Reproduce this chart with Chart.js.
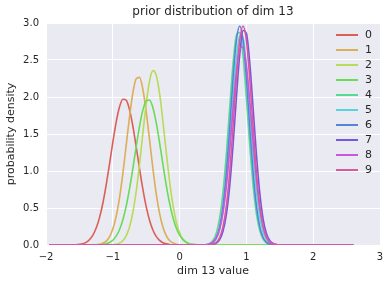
<!DOCTYPE html>
<html>
<head>
<meta charset="utf-8">
<script src="https://cdn.jsdelivr.net/npm/chart.js@4.4.1/dist/chart.umd.min.js"></script>
<style>
  html, body { margin: 0; padding: 0; background: #ffffff; }
  #wrap { width: 390px; height: 284px; }
</style>
</head>
<body>
<div id="wrap"><canvas id="c" width="390" height="284"></canvas></div>
<script>
// ---- data ----
const chartTitle = "prior distribution of dim 13";
const xTitle = "dim 13 value";
const yTitle = "probability density";
const seriesLabels = ["0","1","2","3","4","5","6","7","8","9"];
const seriesColors = ["#db5f57","#dbae57","#b9db57","#69db57","#57db94","#57d3db","#5784db","#7957db","#c957db","#db579e"];
const xTicks = [-2,-1,0,1,2,3];
const yTicks = [0,0.5,1,1.5,2,2.5,3];

const xValues = [
-1.95,-1.9,-1.85,-1.8,-1.75,-1.7,-1.65,-1.6,-1.55,-1.5,
-1.45,-1.4,-1.35,-1.3,-1.25,-1.2,-1.15,-1.1,-1.05,-1.0,
-0.95,-0.9,-0.85,-0.8,-0.75,-0.7,-0.65,-0.6,-0.55,-0.5,
-0.45,-0.4,-0.35,-0.3,-0.25,-0.2,-0.15,-0.1,-0.05,0,
0.05,0.1,0.15,0.2,0.25,0.3,0.35,0.4,0.45,0.5,
0.55,0.6,0.65,0.7,0.75,0.8,0.85,0.9,0.95,1.0,
1.05,1.1,1.15,1.2,1.25,1.3,1.35,1.4,1.45,1.5,
1.55,1.6,1.65,1.7,1.75,1.8,1.85,1.9,1.95,2.0,
2.05,2.1,2.15,2.2,2.25,2.3,2.35,2.4,2.45,2.5,
2.55,2.6];

const density0 = [
0,0,0,0,0,0,0,0.001,0.003,0.008,
0.017,0.036,0.071,0.130,0.226,0.367,0.561,0.807,1.091,1.387,
1.658,1.864,1.970,1.958,1.830,1.608,1.328,1.032,0.754,0.518,
0.335,0.203,0.116,0.062,0.031,0.015,0.007,0.003,0.001,0,
0,0,0,0,0,0,0,0,0,0,
0,0,0,0,0,0,0,0,0,0,
0,0,0,0,0,0,0,0,0,0,
0,0,0,0,0,0,0,0,0,0,
0,0,0,0,0,0,0,0,0,0,
0,0];
const density1 = [
0,0,0,0,0,0,0,0,0,0,
0,0,0,0.001,0.003,0.009,0.023,0.053,0.111,0.216,
0.385,0.634,0.961,1.343,1.730,2.054,2.247,2.265,2.105,1.802,
1.423,1.035,0.694,0.428,0.244,0.128,0.062,0.028,0.011,0.004,
0.002,0,0,0,0,0,0,0,0,0,
0,0,0,0,0,0,0,0,0,0,
0,0,0,0,0,0,0,0,0,0,
0,0,0,0,0,0,0,0,0,0,
0,0,0,0,0,0,0,0,0,0,
0,0];
const density2 = [
0,0,0,0,0,0,0,0,0,0,
0,0,0,0,0,0,0,0,0,0.003,
0.010,0.025,0.058,0.124,0.244,0.439,0.723,1.090,1.508,1.909,
2.216,2.356,2.295,2.048,1.675,1.254,0.861,0.541,0.312,0.165,
0.080,0.035,0.014,0.005,0.002,0,0,0,0,0,
0,0,0,0,0,0,0,0,0,0,
0,0,0,0,0,0,0,0,0,0,
0,0,0,0,0,0,0,0,0,0,
0,0,0,0,0,0,0,0,0,0,
0,0];
const density3 = [
0,0,0,0,0,0,0,0,0,0,
0,0,0,0,0.001,0.003,0.007,0.016,0.033,0.064,
0.119,0.207,0.339,0.522,0.757,1.033,1.327,1.603,1.822,1.948,
1.960,1.856,1.653,1.385,1.092,0.810,0.565,0.371,0.229,0.133,
0.073,0.037,0.018,0.008,0.004,0.001,0,0,0,0,
0,0,0,0,0,0,0,0,0,0,
0,0,0,0,0,0,0,0,0,0,
0,0,0,0,0,0,0,0,0,0,
0,0,0,0,0,0,0,0,0,0,
0,0];
const density4 = [
0,0,0,0,0,0,0,0,0,0,
0,0,0,0,0,0,0,0,0,0,
0,0,0,0,0,0,0,0,0,0,
0,0,0,0,0,0,0,0,0,0,
0,0,0,0,0,0,0.002,0.007,0.022,0.064,
0.164,0.366,0.717,1.233,1.857,2.449,2.832,2.870,2.548,1.983,
1.352,0.808,0.423,0.194,0.078,0.028,0.008,0.002,0,0,
0,0,0,0,0,0,0,0,0,0,
0,0,0,0,0,0,0,0,0,0,
0,0];
const density5 = [
0,0,0,0,0,0,0,0,0,0,
0,0,0,0,0,0,0,0,0,0,
0,0,0,0,0,0,0,0,0,0,
0,0,0,0,0,0,0,0,0,0,
0,0,0,0,0,0,0.001,0.003,0.010,0.031,
0.085,0.206,0.440,0.825,1.361,1.975,2.522,2.831,2.795,2.426,
1.853,1.244,0.735,0.382,0.174,0.070,0.025,0.008,0.002,0,
0,0,0,0,0,0,0,0,0,0,
0,0,0,0,0,0,0,0,0,0,
0,0];
const density6 = [
0,0,0,0,0,0,0,0,0,0,
0,0,0,0,0,0,0,0,0,0,
0,0,0,0,0,0,0,0,0,0,
0,0,0,0,0,0,0,0,0,0,
0,0,0,0,0,0,0.001,0.003,0.011,0.036,
0.102,0.249,0.530,0.985,1.594,2.248,2.763,2.960,2.763,2.248,
1.594,0.985,0.530,0.249,0.102,0.036,0.011,0.003,0.001,0,
0,0,0,0,0,0,0,0,0,0,
0,0,0,0,0,0,0,0,0,0,
0,0];
const density7 = [
0,0,0,0,0,0,0,0,0,0,
0,0,0,0,0,0,0,0,0,0,
0,0,0,0,0,0,0,0,0,0,
0,0,0,0,0,0,0,0,0,0,
0,0,0,0,0,0,0,0,0.002,0.008,
0.025,0.073,0.186,0.411,0.795,1.345,1.987,2.568,2.899,2.860,
2.466,1.858,1.224,0.704,0.354,0.156,0.060,0.020,0.006,0.002,
0,0,0,0,0,0,0,0,0,0,
0,0,0,0,0,0,0,0,0,0,
0,0];
const density8 = [
0,0,0,0,0,0,0,0,0,0,
0,0,0,0,0,0,0,0,0,0,
0,0,0,0,0,0,0,0,0,0,
0,0,0,0,0,0,0,0,0,0,
0,0,0,0,0,0,0.001,0.004,0.014,0.039,
0.099,0.223,0.449,0.804,1.286,1.834,2.332,2.645,2.675,2.414,
1.942,1.393,0.892,0.509,0.259,0.118,0.048,0.017,0.006,0.002,
0,0,0,0,0,0,0,0,0,0,
0,0,0,0,0,0,0,0,0,0,
0,0];
const density9 = [
0,0,0,0,0,0,0,0,0,0,
0,0,0,0,0,0,0,0,0,0,
0,0,0,0,0,0,0,0,0,0,
0,0,0,0,0,0,0,0,0,0,
0,0,0,0,0,0,0,0.001,0.003,0.011,
0.036,0.102,0.249,0.530,0.985,1.594,2.248,2.763,2.960,2.763,
2.248,1.594,0.985,0.530,0.249,0.102,0.036,0.011,0.003,0.001,
0,0,0,0,0,0,0,0,0,0,
0,0,0,0,0,0,0,0,0,0,
0,0];

const allDensities = [density0,density1,density2,density3,density4,density5,density6,density7,density8,density9];

// ---- styling ----
const FONT = "'DejaVu Sans', sans-serif";
const TEXT = "#262626";

const datasets = allDensities.map((ys, i) => ({
  label: seriesLabels[i],
  data: xValues.map((x, j) => ({x: x, y: ys[j]})),
  borderColor: seriesColors[i],
  backgroundColor: seriesColors[i],
  borderWidth: 1.6,
  pointRadius: 0,
  fill: false,
  cubicInterpolationMode: 'monotone',
  order: seriesLabels.length - 1 - i
}));

const bgPlugin = {
  id: 'bg',
  beforeDraw(chart) {
    const {ctx, chartArea: a} = chart;
    ctx.save();
    ctx.fillStyle = '#EAEAF2';
    ctx.fillRect(a.left, a.top, a.right - a.left, a.bottom - a.top);
    // title centred over the plot area
    ctx.font = "12px " + FONT;
    ctx.fillStyle = TEXT;
    ctx.textAlign = 'center';
    ctx.textBaseline = 'middle';
    ctx.fillText(chartTitle, (a.left + a.right) / 2, a.top - 11);
    ctx.restore();
  }
};

const legendPlugin = {
  id: 'innerLegend',
  afterDatasetsDraw(chart) {
    const {ctx, chartArea: a} = chart;
    ctx.save();
    ctx.font = "11px " + FONT;
    ctx.textBaseline = 'middle';
    ctx.textAlign = 'left';
    chart.data.datasets.forEach((ds, i) => {
      const y = a.top + 12 + i * 15;
      const x0 = a.right - 44;
      ctx.strokeStyle = ds.borderColor;
      ctx.lineWidth = 2;
      ctx.beginPath();
      ctx.moveTo(x0, y);
      ctx.lineTo(x0 + 22, y);
      ctx.stroke();
      ctx.fillStyle = TEXT;
      ctx.fillText(ds.label, x0 + 29, y + 0.5);
    });
    ctx.restore();
  }
};

new Chart(document.getElementById('c'), {
  type: 'line',
  data: { datasets },
  plugins: [bgPlugin, legendPlugin],
  options: {
    responsive: false,
    animation: false,
    devicePixelRatio: 1,
    layout: { padding: { left: 0, right: 10, top: 23, bottom: 0 } },
    plugins: {
      legend: { display: false },
      tooltip: { enabled: false },
      title: { display: false }
    },
    scales: {
      x: {
        type: 'linear',
        min: -2, max: 3,
        afterBuildTicks(scale) { scale.ticks = xTicks.map(v => ({value: v})); },
        afterFit(scale) { scale.height = 39; },
        grid: { color: '#ffffff', lineWidth: 1, drawTicks: false },
        border: { display: false },
        ticks: {
          color: TEXT, padding: 6,
          font: { family: FONT, size: 10 },
          callback: v => String(v).replace('-', '\u2212')
        },
        title: {
          display: true, text: xTitle, color: TEXT,
          font: { family: FONT, size: 11, lineHeight: 1.2 },
          padding: { top: 0, bottom: 6 }
        }
      },
      y: {
        min: 0, max: 3,
        afterBuildTicks(scale) { scale.ticks = yTicks.map(v => ({value: v})); },
        afterFit(scale) { scale.width = 46; },
        grid: { color: '#ffffff', lineWidth: 1, drawTicks: false },
        border: { display: false },
        ticks: {
          color: TEXT, padding: 7,
          font: { family: FONT, size: 10 },
          callback: v => Number(v).toFixed(1)
        },
        title: {
          display: true, text: yTitle, color: TEXT,
          font: { family: FONT, size: 11, lineHeight: 1.2 },
          padding: { top: 5, bottom: 0 }
        }
      }
    }
  }
});
</script>
</body>
</html>
